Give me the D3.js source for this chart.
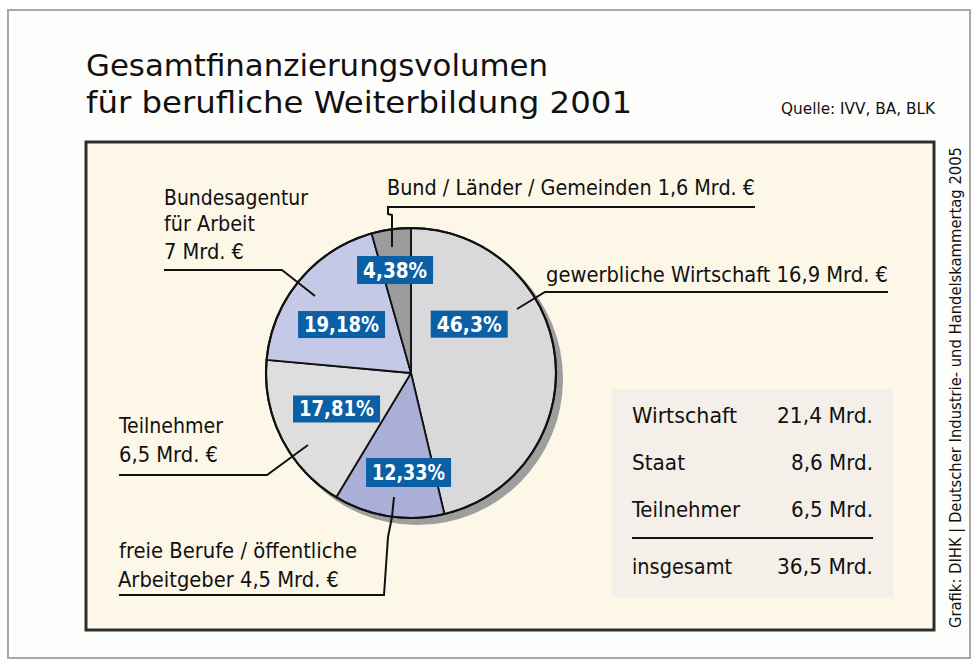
<!DOCTYPE html>
<html>
<head>
<meta charset="utf-8">
<script src="https://cdn.jsdelivr.net/npm/d3@7"></script>
<style>
  body { margin: 0; background: #ffffff; }
  svg text { font-family: "DejaVu Sans Condensed", "DejaVu Sans", sans-serif; font-stretch: condensed; }
</style>
</head>
<body>
<div id="chart"></div>
<script>
// pie slices, clockwise from 12 o'clock
var sliceNames = ['gewerbliche Wirtschaft', 'freie Berufe / öffentliche Arbeitgeber', 'Teilnehmer', 'Bundesagentur für Arbeit', 'Bund / Länder / Gemeinden'];
var sliceShares = [46.3, 12.33, 17.81, 19.18, 4.38];
var sliceAmounts = [16.9, 4.5, 6.5, 7, 1.6];
var sliceColors = ['#d9d9db', '#a9afd6', '#dedede', '#c4c9e7', '#9c9c9c'];

// summary table
var tableLabels = ['Wirtschaft', 'Staat', 'Teilnehmer'];
var tableValues = [21.4, 8.6, 6.5];
var totalLabel = 'insgesamt';
var totalValue = 36.5;

var title = ['Gesamtfinanzierungsvolumen', 'für berufliche Weiterbildung 2001'];
var source = 'Quelle: IVV, BA, BLK';
var credit = 'Grafik: DIHK | Deutscher Industrie- und Handelskammertag 2005';

var width = 977;
var height = 664;

var fmt = function(v) { return String(v).replace('.', ','); };

var svg = d3.select('#chart')
  .append('svg')
  .attr('width', width)
  .attr('height', height);

// outer frame
svg.append('rect')
  .attr('x', 8).attr('y', 10)
  .attr('width', 962).attr('height', 648)
  .attr('fill', '#fdfdfb')
  .attr('stroke', '#a8a8a8')
  .attr('stroke-width', 2);

function txt(x, y, s, size, len, opts) {
  opts = opts || {};
  var t = svg.append('text')
    .attr('x', x).attr('y', y)
    .attr('font-size', size)
    .attr('fill', opts.fill || '#111')
    .attr('font-weight', opts.weight || 'normal')
    .attr('text-anchor', opts.anchor || 'start')
    .text(s);
  if (len) t.attr('textLength', len).attr('lengthAdjust', 'spacingAndGlyphs');
  if (opts.transform) t.attr('transform', opts.transform);
  return t;
}

// title + source
txt(86, 76, title[0], 31, 462);
txt(86, 113, title[1], 31, 546);
txt(781, 114, source, 15, 154);

// panel
svg.append('rect')
  .attr('x', 86).attr('y', 142)
  .attr('width', 848).attr('height', 488)
  .attr('fill', '#fdf7e8')
  .attr('stroke', '#2e2e2e')
  .attr('stroke-width', 3);

// credit, rotated
txt(0, 0, credit, 16, 481, { transform: 'translate(961,628) rotate(-90)' });

// pie
var cx = 411, cy = 373, radius = 145;

var pie = d3.pie().sort(null).value(function(d) { return d; });
var arcs = pie(sliceShares);
var arc = d3.arc().innerRadius(0).outerRadius(radius);

var g = svg.append('g').attr('transform', 'translate(' + cx + ',' + cy + ')');

// shadow
g.append('circle')
  .attr('cx', 6).attr('cy', 6)
  .attr('r', radius + 1)
  .attr('fill', '#9e9e9e');

g.selectAll('.slice')
  .data(arcs)
  .enter()
  .append('path')
  .attr('class', 'slice')
  .attr('d', arc)
  .attr('fill', function(d, i) { return sliceColors[i]; })
  .attr('stroke', '#111')
  .attr('stroke-width', 1.8)
  .attr('stroke-linejoin', 'round');

g.append('circle')
  .attr('r', radius)
  .attr('fill', 'none')
  .attr('stroke', '#111')
  .attr('stroke-width', 2.2);

// percentage boxes: placed by angle (deg, clockwise from top) and distance from centre
var boxPlace = [[50, 76], [181.4, 99.5], [244.2, 82.7], [304.9, 84.7], [351.2, 104.2]];
var boxSize = [[77, 27], [85, 29], [87, 27], [87, 27], [76, 28]];

arcs.forEach(function(d, i) {
  var a = boxPlace[i][0] * Math.PI / 180;
  var x = Math.sin(a) * boxPlace[i][1];
  var y = -Math.cos(a) * boxPlace[i][1];
  var w = boxSize[i][0], h = boxSize[i][1];
  g.append('rect')
    .attr('x', x - w / 2).attr('y', y - h / 2)
    .attr('width', w).attr('height', h)
    .attr('fill', '#0b5fa5');
  var label = fmt(sliceShares[i]) + '%';
  g.append('text')
    .attr('x', x).attr('y', y + 7.5)
    .attr('text-anchor', 'middle')
    .attr('font-size', 21)
    .attr('font-weight', 'bold')
    .attr('fill', '#ffffff')
    .attr('textLength', w - 12)
    .attr('lengthAdjust', 'spacingAndGlyphs')
    .text(label);
});

// callout labels
var line = d3.line();
function leader(pts) {
  svg.append('path')
    .attr('d', line(pts))
    .attr('fill', 'none')
    .attr('stroke', '#111')
    .attr('stroke-width', 2);
}

var eur = ' Mrd. €';

// gewerbliche Wirtschaft
txt(546, 282, sliceNames[0] + ' ' + fmt(sliceAmounts[0]) + eur, 22, 342);
leader([[888, 292], [545, 292], [517, 309]]);

// freie Berufe
txt(119, 558, 'freie Berufe / öffentliche', 22, 238);
txt(118, 587, 'Arbeitgeber ' + fmt(sliceAmounts[1]) + eur, 22, 221);
leader([[119, 595], [384, 595], [388, 537], [392, 517], [394, 497]]);

// Teilnehmer
txt(119, 433, sliceNames[2], 22, 104);
txt(119, 462, fmt(sliceAmounts[2]) + eur, 22, 99);
leader([[119, 475], [267, 475], [308, 445]]);

// Bundesagentur
txt(164, 205, 'Bundesagentur', 22, 144);
txt(164, 231, 'für Arbeit', 22, 91);
txt(164, 259, fmt(sliceAmounts[3]) + eur, 22, 80);
leader([[164, 270], [282, 270], [315, 296]]);

// Bund / Länder / Gemeinden
txt(387, 195, sliceNames[4] + ' ' + fmt(sliceAmounts[4]) + eur, 22, 368);
leader([[755, 207], [388, 207], [388, 214], [392, 215], [392, 247]]);

// summary table
svg.append('rect')
  .attr('x', 612).attr('y', 389)
  .attr('width', 281).attr('height', 209)
  .attr('fill', '#f4efe8');

var rowY = d3.scalePoint().domain(tableLabels).range([423, 517]);
var labelLen = [105, 53, 108];
var valueLen = [96, 82, 82];

tableLabels.forEach(function(l, i) {
  txt(632, rowY(l), l, 21, labelLen[i]);
  txt(873, rowY(l), fmt(tableValues[i]) + ' Mrd.', 21, valueLen[i], { anchor: 'end' });
});

svg.append('line')
  .attr('x1', 632).attr('x2', 873)
  .attr('y1', 538).attr('y2', 538)
  .attr('stroke', '#111')
  .attr('stroke-width', 2);

txt(632, 574, totalLabel, 21, 100);
txt(873, 574, fmt(totalValue) + ' Mrd.', 21, 96, { anchor: 'end' });
</script>
</body>
</html>
